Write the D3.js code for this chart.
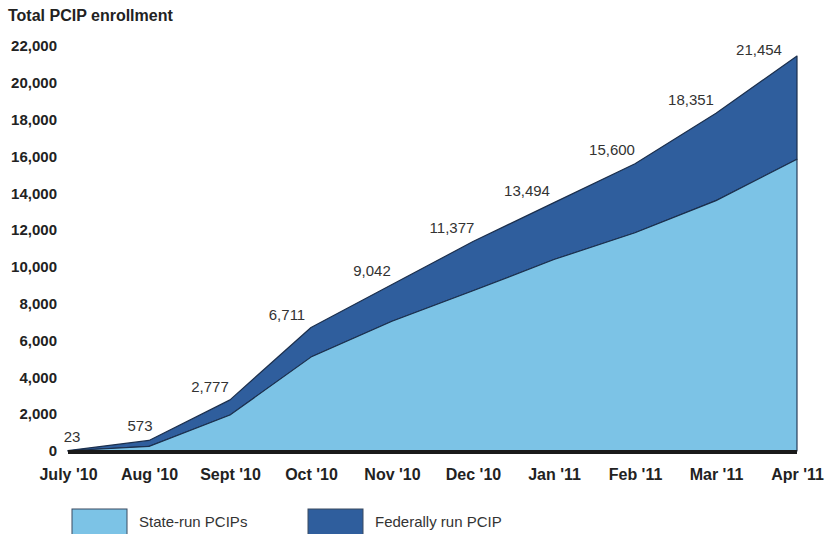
<!DOCTYPE html>
<html>
<head>
<meta charset="utf-8">
<script src="https://cdn.jsdelivr.net/npm/d3@7"></script>
<style>
  body { margin: 0; background: #fff; }
  svg { font-family: "Liberation Sans", Arial, sans-serif; }
</style>
</head>
<body>
<svg></svg>
<script>
// properties for the svg canvas
const w = 826;
const h = 534;

// chart data
const months = ["July '10", "Aug '10", "Sept '10", "Oct '10", "Nov '10", "Dec '10", "Jan '11", "Feb '11", "Mar '11", "Apr '11"];
const totalEnrollment = [23, 573, 2777, 6711, 9042, 11377, 13494, 15600, 18351, 21454];
const stateRun = [10, 250, 1950, 5100, 7050, 8700, 10400, 11850, 13600, 15850];
const yTicks = [0, 2000, 4000, 6000, 8000, 10000, 12000, 14000, 16000, 18000, 20000, 22000];

// label nudges relative to each point (styling only)
const labelNudge = [[4, -13], [-9, -13], [-20, -12], [-24, -11], [-20, -13], [-21, -13], [-27, -11], [-23, -13], [-25, -12], [-38, -5]];

const lightBlue = "#7cc3e6";
const darkBlue = "#2f5e9d";
const edge = "#1b2f4d";

const svg = d3.select("svg")
              .attr("width", w)
              .attr("height", h);

const xScale = d3.scalePoint()
                 .domain(months)
                 .range([68, 797]);

const yScale = d3.scaleLinear()
                 .domain([0, 22000])
                 .range([451, 46]);

const rows = months.map((m, i) => ({ month: m, total: totalEnrollment[i], state: stateRun[i] }));

// federal band sits on top of the state band
const federalArea = d3.area()
                      .x(d => xScale(d.month))
                      .y0(d => yScale(d.state))
                      .y1(d => yScale(d.total));

const stateArea = d3.area()
                    .x(d => xScale(d.month))
                    .y0(yScale(0))
                    .y1(d => yScale(d.state));

svg.append("path")
   .datum(rows)
   .attr("d", federalArea)
   .attr("fill", darkBlue)
   .attr("stroke", edge)
   .attr("stroke-width", 1.2)
   .attr("stroke-linejoin", "round");

svg.append("path")
   .datum(rows)
   .attr("d", stateArea)
   .attr("fill", lightBlue)
   .attr("stroke", edge)
   .attr("stroke-width", 1.1)
   .attr("stroke-linejoin", "round");

// thick baseline
svg.append("line")
   .attr("x1", xScale(months[0]))
   .attr("x2", xScale(months[months.length - 1]))
   .attr("y1", yScale(0) + 1)
   .attr("y2", yScale(0) + 1)
   .attr("stroke", "#1a1a1a")
   .attr("stroke-width", 4);

// y axis
const yAxis = d3.axisLeft(yScale)
                .tickValues(yTicks)
                .tickSize(0)
                .tickPadding(11)
                .tickFormat(d3.format(","));

svg.append("g")
   .attr("transform", "translate(68, 0)")
   .call(yAxis)
   .call(g => g.select(".domain").remove())
   .selectAll("text")
   .attr("font-size", 15)
   .attr("font-weight", "bold")
   .attr("fill", "#222")
   .attr("font-family", "Liberation Sans, Arial, sans-serif");

// x axis
const xAxis = d3.axisBottom(xScale)
                .tickSize(0)
                .tickPadding(18);

svg.append("g")
   .attr("transform", "translate(0, " + yScale(0) + ")")
   .call(xAxis)
   .call(g => g.select(".domain").remove())
   .selectAll("text")
   .attr("font-size", 16)
   .attr("font-weight", "bold")
   .attr("fill", "#222")
   .attr("font-family", "Liberation Sans, Arial, sans-serif");

// axis title
svg.append("text")
   .attr("x", 8)
   .attr("y", 17)
   .attr("dominant-baseline", "middle")
   .attr("font-size", 16)
   .attr("font-weight", "bold")
   .attr("fill", "#222")
   .text("Total PCIP enrollment");

// total value labels
svg.selectAll("text.value")
   .data(rows)
   .enter()
   .append("text")
   .attr("class", "value")
   .attr("x", (d, i) => xScale(d.month) + labelNudge[i][0])
   .attr("y", (d, i) => yScale(d.total) + labelNudge[i][1])
   .attr("text-anchor", "middle")
   .attr("dominant-baseline", "middle")
   .attr("font-size", 15)
   .attr("fill", "#333")
   .text(d => d3.format(",")(d.total));

// legend
const legendItems = [
    { label: "State-run PCIPs", color: lightBlue, x: 72 },
    { label: "Federally run PCIP", color: darkBlue, x: 308 }
];

const legend = svg.selectAll("g.legend")
                  .data(legendItems)
                  .enter()
                  .append("g")
                  .attr("class", "legend")
                  .attr("transform", d => "translate(" + d.x + ", 509)");

legend.append("rect")
      .attr("width", 55)
      .attr("height", 30)
      .attr("fill", d => d.color)
      .attr("stroke", "#3a4a60")
      .attr("stroke-width", 1);

legend.append("text")
      .attr("x", 67)
      .attr("y", 14)
      .attr("dominant-baseline", "middle")
      .attr("font-size", 15)
      .attr("fill", "#333")
      .text(d => d.label);
</script>
</body>
</html>
